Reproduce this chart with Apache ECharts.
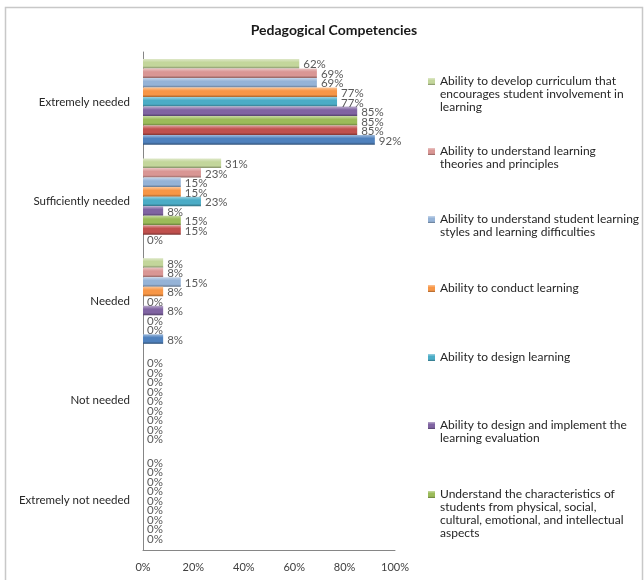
<!DOCTYPE html>
<html>
<head>
<meta charset="utf-8">
<script src="https://cdn.jsdelivr.net/npm/echarts@6/dist/echarts.min.js"></script>
<style>
  html, body { margin: 0; padding: 0; background: #ffffff; }
  #chart { width: 644px; height: 580px; }
</style>
</head>
<body>
<div id="chart"></div>
<script>
// Response categories (top to bottom)
const categories = ['Extremely needed', 'Sufficiently needed', 'Needed', 'Not needed', 'Extremely not needed'];

// Tick labels of the percentage axis
const tickValues = [0, 20, 40, 60, 80, 100];

// Competency names, in bar order from top to bottom within each category
const competencyNames = [
  'Ability to develop curriculum that encourages student involvement in learning',
  'Ability to understand learning theories and principles',
  'Ability to understand student learning styles and learning difficulties',
  'Ability to conduct learning',
  'Ability to design learning',
  'Ability to design and implement the learning evaluation',
  'Understand the characteristics of students from physical, social, cultural, emotional, and intellectual aspects',
  'Competency 8',
  'Competency 9'
];

// Legend text, wrapped
const legendLines = {
  'Ability to develop curriculum that encourages student involvement in learning':
    ['Ability to develop curriculum that', 'encourages student involvement in', 'learning'],
  'Ability to understand learning theories and principles':
    ['Ability to understand learning', 'theories and principles'],
  'Ability to understand student learning styles and learning difficulties':
    ['Ability to understand student learning', 'styles and learning difficulties'],
  'Ability to conduct learning': ['Ability to conduct learning'],
  'Ability to design learning': ['Ability to design learning'],
  'Ability to design and implement the learning evaluation':
    ['Ability to design and implement the', 'learning evaluation'],
  'Understand the characteristics of students from physical, social, cultural, emotional, and intellectual aspects':
    ['Understand the characteristics of', 'students from physical, social,', 'cultural, emotional, and intellectual', 'aspects']
};

// Percentages per category, one array per competency
const curriculum = [62, 31, 8, 0, 0];
const learningTheories = [69, 23, 8, 0, 0];
const learningStyles = [69, 15, 15, 0, 0];
const conductLearning = [77, 15, 8, 0, 0];
const designLearning = [77, 23, 0, 0, 0];
const evaluation = [85, 8, 8, 0, 0];
const characteristics = [85, 15, 0, 0, 0];
const competency8 = [85, 15, 0, 0, 0];
const competency9 = [92, 0, 8, 0, 0];

const seriesValues = [curriculum, learningTheories, learningStyles, conductLearning, designLearning,
  evaluation, characteristics, competency8, competency9];

const palette = ['#C3D69B', '#D99694', '#95B3D7', '#F79646', '#4BACC6', '#8064A2', '#9BBB59', '#C0504D', '#4F81BD'];

function shade(hex, f) {
  const n = parseInt(hex.slice(1), 16);
  let r = (n >> 16) & 255, g = (n >> 8) & 255, b = n & 255;
  if (f >= 0) { r += (255 - r) * f; g += (255 - g) * f; b += (255 - b) * f; }
  else { r *= 1 + f; g *= 1 + f; b *= 1 + f; }
  return 'rgb(' + Math.round(r) + ',' + Math.round(g) + ',' + Math.round(b) + ')';
}

function glossy(hex) {
  return new echarts.graphic.LinearGradient(0, 0, 0, 1, [
    { offset: 0, color: shade(hex, 0.45) },
    { offset: 0.35, color: hex },
    { offset: 0.75, color: hex },
    { offset: 1, color: shade(hex, -0.35) }
  ]);
}

const FONT = 'Lato';
const LH = 13;

// Legend entries, one block each, icon aligned with the first text line
const legendIconY = [81, 151, 219, 288, 357, 425, 494];
const legendOrder = competencyNames.slice(0, 7);
const legends = legendOrder.map((name, i) => {
  const lines = legendLines[name];
  const n = lines.length;
  const padded = new Array(n - 1).fill('').concat(lines);
  const textH = (2 * n - 1) * LH;
  return {
    data: [name],
    orient: 'vertical',
    left: 428,
    top: Math.round(legendIconY[i] - textH / 2),
    padding: 0,
    itemWidth: 7,
    itemHeight: 7,
    itemGap: 0,
    icon: 'rect',
    selectedMode: false,
    formatter: () => padded.join('\n'),
    textStyle: { fontFamily: FONT, fontSize: 12, color: '#262626', lineHeight: LH }
  };
});

const series = competencyNames.map((name, i) => ({
  name: name,
  type: 'bar',
  data: seriesValues[i],
  barGap: '0%',
  barCategoryGap: '14%',
  itemStyle: {
    color: glossy(palette[i])
  },
  label: {
    show: true,
    position: 'right',
    distance: 4,
    offset: [0, 1],
    formatter: '{c}%',
    fontFamily: FONT,
    fontSize: 11.5,
    color: '#595959'
  }
}));

const chart = echarts.init(document.getElementById('chart'), null, { renderer: 'canvas' });
chart.setOption({
  animation: false,
  color: palette,
  title: {
    text: 'Pedagogical Competencies',
    left: 329,
    top: 18,
    textAlign: 'center',
    textStyle: { fontFamily: FONT, fontSize: 14, fontWeight: 'bold', color: '#1a1a1a' }
  },
  graphic: [{
    type: 'rect',
    shape: { x: 5.5, y: 7.5, width: 637, height: 600 },
    style: { fill: 'none', stroke: '#c8c8c8', lineWidth: 1.5 },
    silent: true
  }],
  legend: legends,
  grid: { left: 143, right: 249, top: 52, bottom: 30, containLabel: false },
  xAxis: {
    type: 'value',
    min: tickValues[0],
    max: tickValues[tickValues.length - 1],
    interval: 20,
    axisLine: { show: true, lineStyle: { color: '#868686' } },
    axisTick: { show: false },
    splitLine: { show: false },
    axisLabel: {
      formatter: '{value}%',
      fontFamily: FONT,
      fontSize: 11,
      color: '#404040',
      margin: 12
    }
  },
  yAxis: {
    type: 'category',
    data: categories,
    inverse: true,
    axisLine: { show: true, lineStyle: { color: '#868686' } },
    axisTick: { show: false },
    axisLabel: {
      fontFamily: FONT,
      fontSize: 11.5,
      color: '#262626',
      margin: 13
    }
  },
  series: series
});
</script>
</body>
</html>
